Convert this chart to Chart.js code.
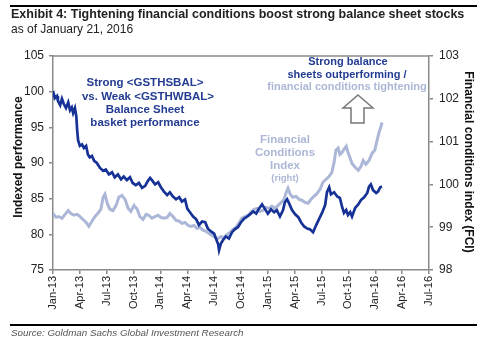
<!DOCTYPE html>
<html>
<head>
<meta charset="utf-8">
<script src="https://cdn.jsdelivr.net/npm/chart.js@4/dist/chart.umd.min.js"></script>
<style>
  html, body { margin: 0; padding: 0; background: #fff; }
  #wrap { width: 488px; height: 347px; }
</style>
</head>
<body>
<div id="wrap"><canvas id="fciChart" width="488" height="347"></canvas></div>
<script>
// x positions are months since Jan-13
var xTickLabels = ["Jan-13", "Apr-13", "Jul-13", "Oct-13", "Jan-14", "Apr-14", "Jul-14", "Oct-14",
                   "Jan-15", "Apr-15", "Jul-15", "Oct-15", "Jan-16", "Apr-16", "Jul-16"];

var basketMonths = [0, 0.2, 0.45, 0.55, 0.8, 1.0, 1.2, 1.45, 1.7, 1.9, 2.1, 2.25, 2.45, 2.6, 2.7, 2.8,
  3.0, 3.25, 3.45, 3.7, 3.9, 4.1, 4.35, 4.6, 4.9, 5.25, 5.6, 5.9, 6.25, 6.6, 6.9, 7.25, 7.6, 7.9,
  8.25, 8.6, 8.9, 9.25, 9.6, 9.95, 10.3, 10.6, 10.85, 11.05, 11.4, 11.75, 12.05, 12.4, 12.75, 13.05,
  13.4, 13.75, 14.1, 14.4, 14.75, 15.0, 15.3, 15.65, 16.0, 16.3, 16.65, 17.0, 17.3, 17.65, 18.0,
  18.2, 18.45, 18.55, 18.75, 19.0, 19.3, 19.65, 20.0, 20.3, 20.65, 21.0, 21.35, 21.7, 22.0, 22.35,
  22.7, 23.0, 23.35, 23.7, 24.0, 24.35, 24.7, 25.0, 25.35, 25.7, 25.9, 26.15, 26.35, 26.7, 27.05,
  27.4, 27.7, 28.05, 28.4, 28.7, 29.05, 29.4, 29.7, 30.05, 30.4, 30.6, 30.85, 31.05, 31.4, 31.75,
  32.05, 32.3, 32.5, 32.75, 32.95, 33.2, 33.4, 33.75, 34.1, 34.4, 34.75, 35.1, 35.3, 35.5, 35.75,
  36.1, 36.3, 36.55, 36.75];
var basketValues = [100.1, 99.1, 99.4, 98.7, 98.1, 99.0, 98.3, 97.7, 98.5, 97.4, 97.8, 97.0, 97.7, 96.6,
  94.6, 93.2, 92.4, 92.6, 92.1, 92.4, 91.2, 90.8, 91.0, 90.3, 90.0, 89.3, 88.9, 89.1, 88.4, 88.7,
  88.0, 88.4, 87.7, 88.1, 87.6, 88.0, 87.2, 86.9, 87.2, 86.5, 86.8, 87.5, 87.9, 87.6, 87.0, 87.3,
  86.6, 86.0, 85.5, 85.9, 85.3, 84.9, 85.2, 84.6, 84.9, 83.6, 83.1, 82.5, 82.1, 81.3, 81.8, 81.7,
  80.8, 80.4, 80.1, 79.4, 78.6, 77.8, 78.7, 79.2, 79.7, 79.4, 80.3, 80.7, 81.0, 81.7, 82.2, 82.5,
  82.8, 83.2, 82.9, 83.6, 84.2, 83.5, 82.9, 83.5, 83.1, 83.4, 82.5, 83.4, 84.5, 84.9, 84.4, 83.4,
  82.8, 82.4, 81.7, 81.1, 80.8, 80.7, 80.3, 81.3, 82.1, 83.0, 84.1, 85.9, 86.6, 85.6, 85.9, 85.3,
  85.1, 83.8, 83.0, 83.4, 82.7, 83.1, 82.5, 83.7, 84.2, 84.8, 85.2, 85.8, 86.7, 87.0, 86.2, 85.8,
  86.0, 86.6, 86.7];

var fciMonths = [0, 0.35, 0.65, 1.0, 1.35, 1.7, 2.0, 2.35, 2.7, 3.0, 3.35, 3.7, 4.0, 4.35, 4.7, 5.0,
  5.35, 5.6, 5.8, 6.05, 6.35, 6.7, 7.05, 7.35, 7.7, 8.05, 8.4, 8.7, 9.05, 9.4, 9.7, 10.05, 10.4,
  10.7, 11.05, 11.4, 11.75, 12.05, 12.4, 12.75, 13.05, 13.4, 13.75, 14.1, 14.4, 14.75, 15.1, 15.4,
  15.75, 16.1, 16.4, 16.75, 17.1, 17.45, 17.75, 18.1, 18.45, 18.75, 19.1, 19.45, 19.8, 20.1, 20.45,
  20.8, 21.1, 21.45, 21.8, 22.1, 22.45, 22.8, 23.1, 23.45, 23.8, 24.15, 24.45, 24.8, 25.15, 25.5,
  25.8, 26.05, 26.25, 26.5, 26.8, 27.15, 27.5, 27.8, 28.15, 28.5, 28.8, 29.15, 29.5, 29.85, 30.15,
  30.5, 30.85, 31.15, 31.4, 31.6, 31.85, 32.05, 32.3, 32.5, 32.75, 32.95, 33.2, 33.4, 33.75, 34.1,
  34.4, 34.65, 34.95, 35.3, 35.65, 35.95, 36.2, 36.4, 36.65, 36.75];
var fciValues = [99.32, 99.23, 99.25, 99.21, 99.30, 99.39, 99.32, 99.28, 99.30, 99.25, 99.18, 99.11,
  99.02, 99.14, 99.25, 99.32, 99.42, 99.70, 99.77, 99.56, 99.42, 99.39, 99.51, 99.70, 99.74, 99.65,
  99.44, 99.37, 99.51, 99.42, 99.25, 99.18, 99.30, 99.28, 99.21, 99.25, 99.28, 99.23, 99.21, 99.23,
  99.32, 99.25, 99.16, 99.14, 99.09, 99.11, 99.04, 99.02, 99.04, 98.97, 99.00, 98.93, 98.90, 98.85,
  98.81, 98.76, 98.74, 98.78, 98.76, 98.83, 98.88, 98.95, 99.00, 99.11, 99.21, 99.25, 99.28, 99.35,
  99.42, 99.44, 99.37, 99.39, 99.46, 99.44, 99.49, 99.44, 99.51, 99.58, 99.65, 99.81, 99.91, 99.77,
  99.70, 99.72, 99.65, 99.63, 99.58, 99.56, 99.65, 99.72, 99.79, 99.89, 100.05, 100.12, 100.19,
  100.28, 100.52, 100.80, 100.85, 100.70, 100.75, 100.82, 100.89, 100.75, 100.61, 100.49, 100.40,
  100.33, 100.42, 100.56, 100.47, 100.56, 100.73, 100.80, 101.03, 101.20, 101.36, 101.45];

var darkBlue = 'rgb(22, 50, 150)';
var lightBlue = 'rgb(172, 183, 215)';
var axisGrey = '#8a8a8a';
var textFont = '"Liberation Sans", Arial, sans-serif';

function toPoints(xs, ys) {
  return xs.map(function (x, i) { return { x: x, y: ys[i] }; });
}

var decorPlugin = {
  id: 'decor',
  afterDraw: function (chart) {
    var c = chart.ctx, a = chart.chartArea;
    c.save();
    // top and bottom rules
    c.fillStyle = '#000';
    c.fillRect(10, 5, 467, 2);
    c.fillRect(10, 324, 467, 2);
    // box top edge
    c.strokeStyle = axisGrey;
    c.lineWidth = 1.5;
    c.beginPath();
    c.moveTo(a.left, a.top);
    c.lineTo(a.right, a.top);
    c.stroke();

    c.textBaseline = 'middle';
    c.textAlign = 'left';
    c.fillStyle = '#222';
    c.font = 'bold 12.5px ' + textFont;
    c.fillText('Exhibit 4: Tightening financial conditions boost strong balance sheet stocks', 11, 15);
    c.font = '12px ' + textFont;
    c.fillText('as of January 21, 2016', 11, 30);
    c.font = 'italic 9.8px ' + textFont;
    c.fillStyle = '#555';
    c.fillText('Source: Goldman Sachs Global Investment Research', 11, 333);

    // axis titles
    c.fillStyle = '#111';
    c.font = 'bold 12px ' + textFont;
    c.textAlign = 'center';
    c.save();
    c.translate(19, 157);
    c.rotate(-Math.PI / 2);
    c.fillText('Indexed performance', 0, 0);
    c.restore();
    c.save();
    c.translate(468, 162);
    c.rotate(Math.PI / 2);
    c.fillText('Financial conditions index (FCI)', 0, 0);
    c.restore();

    // annotations
    c.font = 'bold 11.5px ' + textFont;
    c.fillStyle = 'rgb(35, 60, 145)';
    c.fillText('Strong <GSTHSBAL>', 145, 83);
    c.fillText('vs. Weak <GSTHWBAL>', 148, 97);
    c.fillText('Balance Sheet', 145, 110);
    c.fillText('basket performance', 145, 123);

    c.font = 'bold 11px ' + textFont;
    c.fillText('Strong balance', 348, 62);
    c.fillText('sheets outperforming /', 347, 75);
    c.fillStyle = lightBlue;
    c.fillText('financial conditions tightening', 347, 87);

    c.font = 'bold 11.5px ' + textFont;
    c.fillText('Financial', 285, 140);
    c.fillText('Conditions', 285, 153);
    c.fillText('Index', 285, 166);
    c.font = 'bold 9.5px ' + textFont;
    c.fillText('(right)', 285, 178);

    // hollow arrow
    c.strokeStyle = '#777';
    c.lineWidth = 1.5;
    c.fillStyle = '#fff';
    c.beginPath();
    c.moveTo(358, 95);
    c.lineTo(373, 108);
    c.lineTo(364, 108);
    c.lineTo(364, 123);
    c.lineTo(351, 123);
    c.lineTo(351, 108);
    c.lineTo(343, 108);
    c.closePath();
    c.fill();
    c.stroke();
    c.restore();
  }
};

var ctx = document.getElementById('fciChart').getContext('2d');
var fciChart = new Chart(ctx, {
  type: 'line',
  data: {
    datasets: [{
      label: 'Strong vs. Weak Balance Sheet basket',
      data: toPoints(basketMonths, basketValues),
      yAxisID: 'yLeft',
      borderColor: darkBlue,
      borderWidth: 2.7,
      pointRadius: 0,
      tension: 0,
      order: 0
    }, {
      label: 'Financial Conditions Index (right)',
      data: toPoints(fciMonths, fciValues),
      yAxisID: 'yRight',
      borderColor: lightBlue,
      borderWidth: 3,
      pointRadius: 0,
      tension: 0,
      order: 1
    }]
  },
  options: {
    responsive: false,
    animation: false,
    layout: { padding: { top: 56, left: 0, right: 0, bottom: 0 } },
    plugins: {
      legend: { display: false },
      tooltip: { enabled: false }
    },
    scales: {
      x: {
        type: 'linear',
        min: 0,
        max: 42,
        afterFit: function (s) { s.height = 77; },
        afterBuildTicks: function (s) {
          s.ticks = xTickLabels.map(function (l, i) { return { value: i * 3 }; });
        },
        ticks: {
          autoSkip: false,
          minRotation: 90,
          maxRotation: 90,
          padding: 2,
          color: '#222',
          font: { family: textFont, size: 11 },
          callback: function (v) { return xTickLabels[Math.round(v / 3)]; }
        },
        grid: { drawOnChartArea: false, drawTicks: true, tickLength: 4, color: axisGrey, lineWidth: 1.5 },
        border: { color: axisGrey, width: 1.5 }
      },
      yLeft: {
        position: 'left',
        min: 75,
        max: 105,
        afterFit: function (s) { s.width = 53; },
        ticks: {
          stepSize: 5,
          padding: 5,
          color: '#222',
          font: { family: textFont, size: 12 }
        },
        grid: { drawOnChartArea: false, drawTicks: true, tickLength: 4, color: axisGrey, lineWidth: 1.5 },
        border: { color: axisGrey, width: 1.5 }
      },
      yRight: {
        position: 'right',
        min: 98,
        max: 103,
        afterFit: function (s) { s.width = 59; },
        ticks: {
          stepSize: 1,
          padding: 6,
          color: '#222',
          font: { family: textFont, size: 12 }
        },
        grid: { drawOnChartArea: false, drawTicks: true, tickLength: 4, color: axisGrey, lineWidth: 1.5 },
        border: { color: axisGrey, width: 1.5 }
      }
    }
  },
  plugins: [decorPlugin]
});
</script>
</body>
</html>
